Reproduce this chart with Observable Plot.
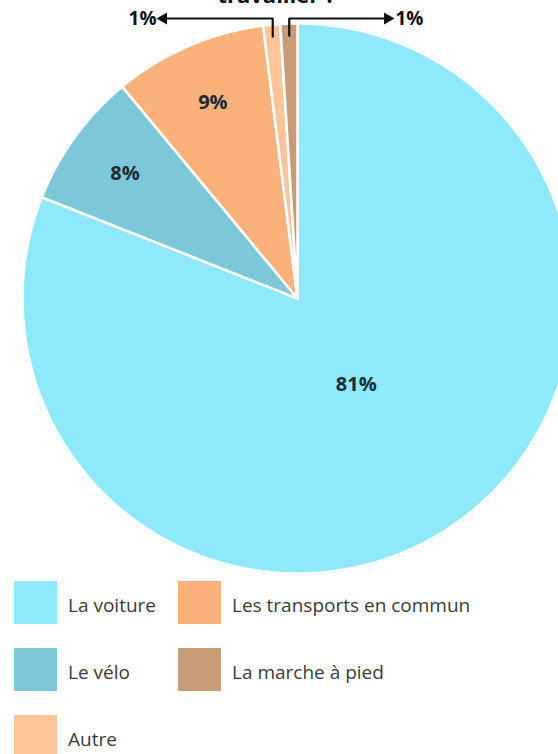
<!DOCTYPE html>
<html><head><meta charset="utf-8">
<script src="https://cdn.jsdelivr.net/npm/d3@7"></script>
<script src="https://cdn.jsdelivr.net/npm/@observablehq/plot@0.6"></script>
<style>
body{margin:0;background:#fff;font-family:"Open Sans",sans-serif;overflow:hidden;}
#chart svg{display:block;}
#legend{display:grid;grid-template-columns:164px auto;row-gap:24px;padding-left:14px;margin-top:3px;}
.item{display:flex;align-items:center;height:43px;}
.sw{width:43px;height:43px;flex:none;}
.lb{margin-left:11px;font-size:19px;color:#3a3a3a;margin-top:4px;}
</style></head><body>
<div id="chart"></div>
<div id="legend"></div>
<script>
// ---- data ----
const categories = ["La voiture", "Le vélo", "Les transports en commun", "Autre", "La marche à pied"];
const values = [81, 8, 9, 1, 1];
const colors = ["#8ee9fa", "#7dc8d8", "#fbb27a", "#fdc597", "#c99c78"];
const legendOrder = ["La voiture", "Les transports en commun", "Le vélo", "La marche à pied", "Autre"];
const title = "travailler ?";

// ---- layout ----
const W = 558, H = 578, cx = 297, cy = 298, R = 275;
const table = categories.map((c, i) => ({cat: c, value: values[i], color: colors[i]}));
const arcs = d3.pie().sort(null).value(d => d.value)(table);
const px = (a, r) => cx + r * Math.sin(a);
const py = (a, r) => cy - r * Math.cos(a);

const points = [];
arcs.forEach(a => {
  points.push({cat: a.data.cat, x: cx, y: cy});
  const n = Math.max(2, Math.ceil((a.endAngle - a.startAngle) / 0.008));
  for (let k = 0; k <= n; k++) {
    const t = a.startAngle + (a.endAngle - a.startAngle) * k / n;
    points.push({cat: a.data.cat, x: px(t, R), y: py(t, R)});
  }
});

const mid = a => (a.startAngle + a.endAngle) / 2;
const big = arcs.filter(a => a.data.value >= 3);
const small = arcs.filter(a => a.data.value < 3);
const inLabels = big.map(a => {
  const r = a.data.value > 50 ? 0.38 * R : 0.775 * R;
  return {x: px(mid(a), r), y: py(mid(a), r), text: a.data.value + "%"};
});

// elbow callouts for the tiny slices
const yTop = 18, leftEnd = 160, rightEnd = 390;
const callLines = [], callHeads = [], textLeft = [], textRight = [];
small.forEach((a, i) => {
  const left = i === 0;
  const r0 = R - 12;
  const x0 = px(mid(a), r0), y0 = py(mid(a), r0);
  const xe = left ? leftEnd : rightEnd;
  callLines.push({id: i, x: x0, y: y0}, {id: i, x: x0, y: yTop}, {id: i, x: xe + (left ? 4 : -4), y: yTop});
  callHeads.push({x: xe + (left ? 3 : -3), y: yTop, rot: left ? -90 : 90});
  (left ? textLeft : textRight).push({x: left ? xe - 4 : xe + 5, y: yTop, text: a.data.value + "%"});
});

const chart = Plot.plot({
  width: W, height: H, margin: 0,
  x: {domain: [0, W], range: [0, W], axis: null},
  y: {domain: [0, H], range: [0, H], axis: null},
  color: {domain: categories, range: colors, legend: false},
  style: {fontFamily: "Open Sans", background: "white", overflow: "visible"},
  marks: [
    Plot.line(points, {x: "x", y: "y", z: "cat", fill: "cat", stroke: "white", strokeWidth: 2.5, strokeLinejoin: "round", curve: "linear-closed"}),
    Plot.text(inLabels, {x: "x", y: "y", text: "text", fontSize: 20, fontWeight: "bold", fill: "#1c2a36"}),
    Plot.line(callLines, {x: "x", y: "y", z: "id", stroke: "#111", strokeWidth: 2.2, strokeLinejoin: "miter"}),
    Plot.dot(callHeads, {x: "x", y: "y", symbol: "triangle", r: 4.5, fill: "#111", stroke: null, rotate: "rot"}),
    Plot.text(textLeft, {x: "x", y: "y", text: "text", textAnchor: "end", fontSize: 19, fontWeight: "bold", fill: "#111"}),
    Plot.text(textRight, {x: "x", y: "y", text: "text", textAnchor: "start", fontSize: 19, fontWeight: "bold", fill: "#111"}),
    Plot.text([title], {x: [276], y: [2], text: d => d, lineAnchor: "bottom", fontSize: 22, fontWeight: "bold", fill: "#111"})
  ]
});
document.getElementById("chart").appendChild(chart);

// ---- legend ----
const leg = document.getElementById("legend");
legendOrder.forEach(name => {
  const i = categories.indexOf(name);
  const it = document.createElement("div");
  it.className = "item";
  const sw = document.createElement("div");
  sw.className = "sw";
  sw.style.background = colors[i];
  const lb = document.createElement("div");
  lb.className = "lb";
  lb.textContent = name;
  it.appendChild(sw); it.appendChild(lb);
  leg.appendChild(it);
});
</script>
</body></html>
